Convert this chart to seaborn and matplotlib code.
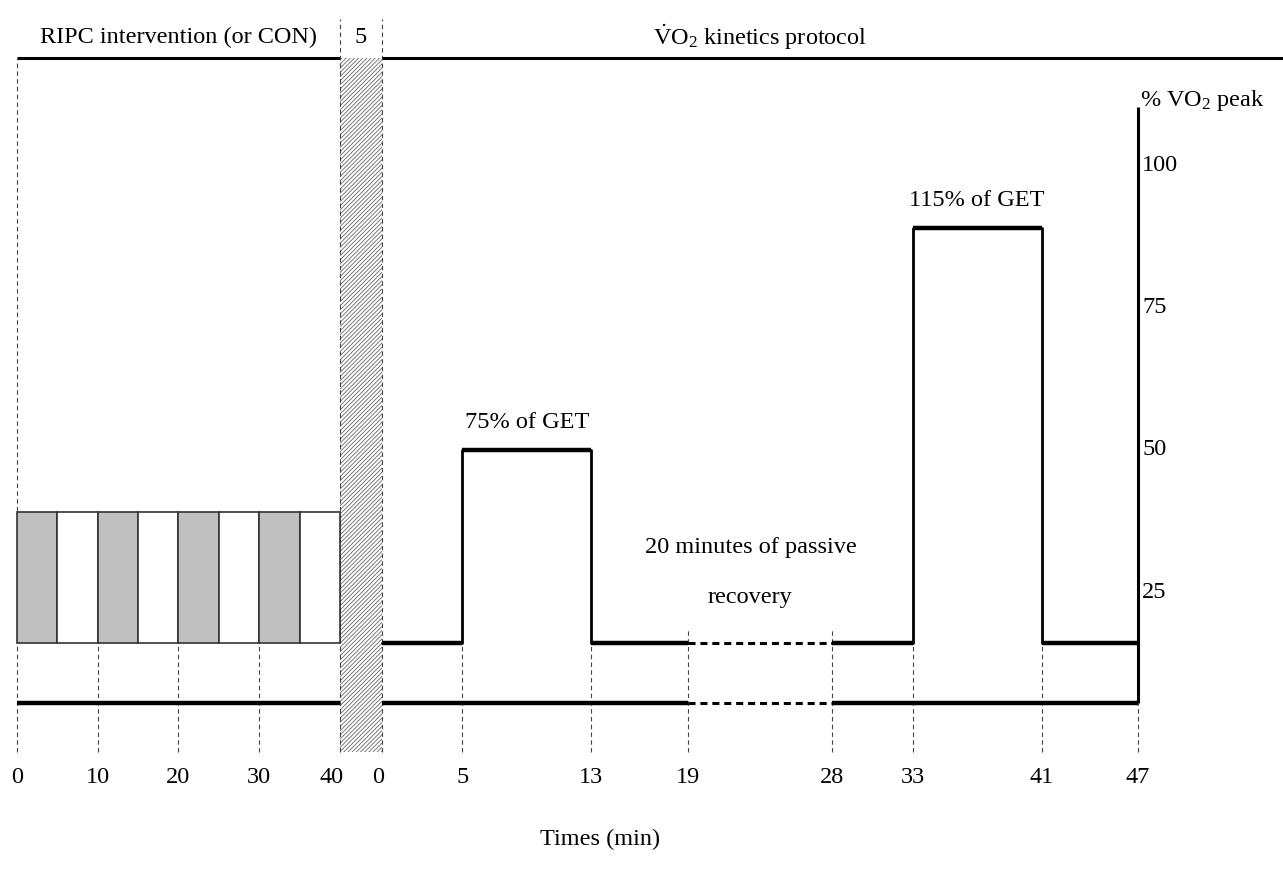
import numpy as np
import pandas as pd
import matplotlib
matplotlib.use("Agg")
import matplotlib.pyplot as plt
import seaborn as sns

# ---------------- data ----------------
ripc_ticks = [0, 10, 20, 30, 40]
cuff_start = [0, 5, 10, 15, 20, 25, 30, 35]
cuff_state = ["occlusion", "reperfusion"] * 4
cuff_low, cuff_high = 16, 39
transition_min = 5

protocol_ticks = [0, 5, 13, 19, 28, 33, 41, 47]
phase_start = [0, 5, 13, 19, 28, 33, 41]
phase_end = [5, 13, 19, 28, 33, 41, 47]
phase_level = [16, 50, 16, 16, 16, 89, 16]
phase_passive = [False, False, False, True, False, False, False]
phase_label = ["", "75% of GET", "", "", "", "115% of GET", ""]
time_line_level = 5.5
vo2_ticks = [25, 50, 75, 100]
recovery_lines = ["20 minutes of passive", "recovery"]

# ---------------- style ----------------
sns.set_theme(style="white")
plt.rcParams["font.family"] = ["Liberation Serif", "DejaVu Serif"]
plt.rcParams["mathtext.fontset"] = "custom"
plt.rcParams["mathtext.rm"] = "Liberation Serif"
plt.rcParams["mathtext.it"] = "Liberation Serif:italic"
plt.rcParams["hatch.linewidth"] = 0.6
plt.rcParams["text.color"] = "black"
FS = 17.5
guide = dict(color="#444444", lw=0.8, linestyle=(0, (4, 3)))
passive_ls = (0, (2.3, 1.6))

fig = plt.figure(figsize=(12.83, 8.73), dpi=100)
ax = fig.add_axes([0, 0, 1, 1])          # RIPC time scale (min)
ax.set_xlim(-2.105, 156.78)
ax.set_ylim(-24.36, 129.0)
ax.axis("off")
axp = ax.twiny()                          # protocol time scale (min)
axp.set_xlim(-23.75, 56.01)
axp.axis("off")

top_y = 118.8
guide_bottom = -3.1
header_y = 122.5
tick_y = -7.5

# ---------------- RIPC part ----------------
r0, r1 = ripc_ticks[0], ripc_ticks[-1]
ax.hlines(top_y, r0, r1, color="black", lw=2.2)
ax.text((r0 + r1) / 2, header_y, "RIPC intervention (or CON)", ha="center",
        va="center", fontsize=FS)

cuff_colors = ["#c0c0c0" if s == "occlusion" else "white" for s in cuff_state]
ax.bar(cuff_start, cuff_high - cuff_low, bottom=cuff_low, width=5,
       align="edge", color=cuff_colors, edgecolor="#333333", lw=1.2, zorder=3)

ax.vlines(r0, guide_bottom, top_y, **guide)
ax.vlines(ripc_ticks[1:-1], guide_bottom, cuff_low, **guide)
ax.hlines(time_line_level, r0, r1, color="black", lw=3.2, zorder=4)
for t in ripc_ticks:
    off = -1.1 if t == r1 else 0
    ax.text(t + off, tick_y, str(t), ha="center", va="center", fontsize=FS)

# transition (hatched)
h0, h1 = r1, r1 + transition_min + 0.2
ax.fill_between([h0, h1], guide_bottom, top_y, facecolor="white",
                edgecolor="#666666", hatch="/" * 8, lw=0, zorder=2)
ax.vlines([h0, h1], guide_bottom, top_y + 6.8, **guide)
ax.text((h0 + h1) / 2, header_y, str(transition_min), ha="center",
        va="center", fontsize=FS)

# ---------------- protocol part ----------------
p0, p1 = protocol_ticks[0], protocol_ticks[-1]
axp.hlines(top_y, p0, axp.get_xlim()[1], color="black", lw=2.2)
axp.text((p0 + 56) / 2 - 4.5, header_y,
         r"$\dot{\mathrm{V}}$O$_2$ kinetics protocol", ha="center",
         va="center", fontsize=FS)

df = pd.DataFrame({"start": phase_start, "end": phase_end,
                   "level": phase_level, "passive": phase_passive})
# solid step profiles (before and after passive recovery)
split = df.index[df["passive"]][0]
for part in (df.iloc[:split], df.iloc[split + 1:]):
    xs = list(part["start"]) + [part["end"].iloc[-1]]
    ys = list(part["level"]) + [part["level"].iloc[-1]]
    sns.lineplot(x=xs, y=ys, ax=axp, drawstyle="steps-post", sort=False,
                 estimator=None, color="black", lw=2.0, zorder=4)
    axp.hlines(part["level"], part["start"], part["end"], color="black",
               lw=3.2, zorder=5)
pas = df[df["passive"]]
axp.hlines(pas["level"], pas["start"], pas["end"], color="black", lw=2.2,
           linestyle=passive_ls, zorder=5)

# lower time line
for _, r in df.iterrows():
    axp.hlines(time_line_level, r["start"], r["end"], color="black",
               lw=3.2 if not r["passive"] else 2.2,
               linestyle="solid" if not r["passive"] else passive_ls, zorder=5)

# guides
for t in protocol_ticks[1:-1]:
    top = min(df.loc[df["end"] == t, "level"].min(),
              df.loc[df["start"] == t, "level"].min())
    if t in list(pas["start"]) + list(pas["end"]):
        top = top + 2.7
    axp.vlines(t, guide_bottom, top, **guide)
axp.vlines(p1, guide_bottom, time_line_level, **guide)

for t in protocol_ticks:
    off = -0.25 if t == p0 else 0
    axp.text(t + off, tick_y, str(t), ha="center", va="center", fontsize=FS)

# labels over bouts
for i, r in df.iterrows():
    lab = phase_label[i]
    if lab:
        axp.text((r["start"] + r["end"]) / 2, r["level"] + 4.7, lab,
                 ha="center", va="center", fontsize=FS)
pc = (pas["start"].iloc[0] + pas["end"].iloc[0]) / 2
axp.text(pc - 0.6, 32.9, recovery_lines[0], ha="center", va="center", fontsize=FS)
axp.text(pc - 0.6, 24.0, recovery_lines[1], ha="center", va="center", fontsize=FS)

# right %VO2peak axis
axp.vlines(p1, time_line_level, 110.2, color="black", lw=2.2, zorder=5)
for v in vo2_ticks:
    axp.text(p1 + 0.25, v, str(v), ha="left", va="center", fontsize=FS)
axp.text(p1 + 0.1, 111.4, r"% VO$_2$ peak", ha="left", va="center",
         fontsize=FS)

axp.text(13.55, -18.5, "Times (min)", ha="center", va="center", fontsize=FS)

fig.savefig("out.png", dpi=100, facecolor="white")
